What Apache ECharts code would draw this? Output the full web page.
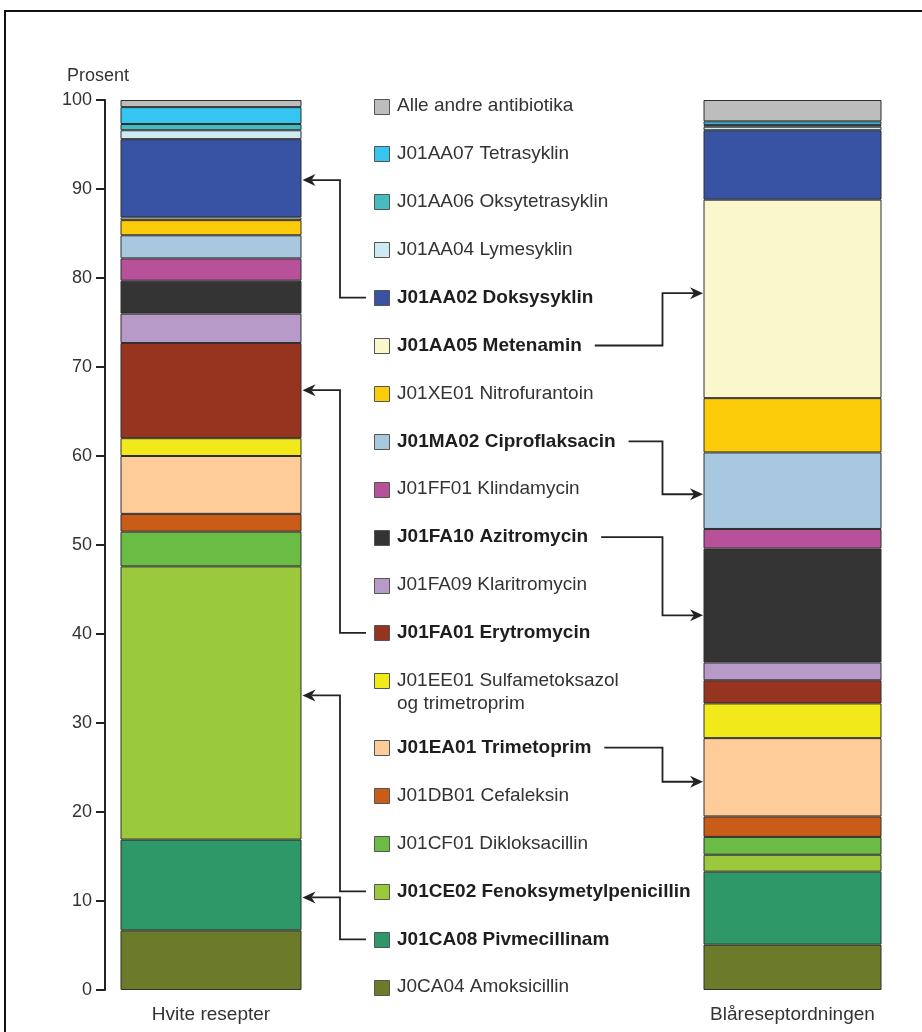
<!DOCTYPE html>
<html>
<head>
<meta charset="utf-8">
<script src="https://cdn.jsdelivr.net/npm/echarts@6/dist/echarts.min.js"></script>
<style>
  html, body { margin: 0; padding: 0; background: #fff; }
  #chart { width: 922px; height: 1032px; }
</style>
</head>
<body>
<div id="chart"></div>
<script>
// søylene
var categories = ['Hvite resepter', 'Blåreseptordningen'];

// virkestoff, ovenfra og ned (samme rekkefølge som tegnforklaringen)
var drugNames = [
  'Alle andre antibiotika',
  'J01AA07 Tetrasyklin',
  'J01AA06 Oksytetrasyklin',
  'J01AA04 Lymesyklin',
  'J01AA02 Doksysyklin',
  'J01AA05 Metenamin',
  'J01XE01 Nitrofurantoin',
  'J01MA02 Ciproflaksacin',
  'J01FF01 Klindamycin',
  'J01FA10 Azitromycin',
  'J01FA09 Klaritromycin',
  'J01FA01 Erytromycin',
  'J01EE01 Sulfametoksazol\nog trimetroprim',
  'J01EA01 Trimetoprim',
  'J01DB01 Cefaleksin',
  'J01CF01 Dikloksacillin',
  'J01CE02 Fenoksymetylpenicillin',
  'J01CA08 Pivmecillinam',
  'J0CA04 Amoksicillin'
];

// prosent av forskrivningen
var hviteValues = [0.8, 1.9, 0.7, 1.0, 8.8, 0.3, 1.7, 2.6, 2.5, 3.7, 3.3, 10.7, 2.0, 6.5, 2.0, 3.9, 30.7, 10.2, 6.7];
var blaaValues = [2.4, 0.4, 0.2, 0.4, 7.8, 22.3, 6.1, 8.6, 2.2, 12.8, 2.0, 2.6, 3.9, 8.8, 2.3, 2.0, 1.9, 8.2, 5.1];

// piler fra tegnforklaringen til søylene
var arrowDrugs = ['J01AA02 Doksysyklin', 'J01FA01 Erytromycin', 'J01CE02 Fenoksymetylpenicillin', 'J01CA08 Pivmecillinam',
  'J01AA05 Metenamin', 'J01MA02 Ciproflaksacin', 'J01FA10 Azitromycin', 'J01EA01 Trimetoprim'];
var arrowBars = [0, 0, 0, 0, 1, 1, 1, 1];
var arrowValues = [91.0, 67.4, 33.1, 10.4, 78.3, 55.7, 42.1, 23.4];

var colors = ['#bdbdbd', '#35c5f0', '#45bcbe', '#cde9f2', '#3853a3', '#fbf7cd', '#fccb0a', '#a8c8e0', '#b7529a', '#333433',
  '#b89ac8', '#973420', '#f2e91a', '#fdcc99', '#c95c18', '#6bbc45', '#9bc93c', '#2f9868', '#6b7b2a'];

var fontFamily = '"Liberation Sans", Arial, sans-serif';
var barWidths = [181, 178];

var myChart = echarts.init(document.getElementById('chart'));

// en serie per virkestoff og søyle, nederst først så stablingen blir riktig
var series = [];
for (var i = drugNames.length - 1; i >= 0; i--) {
  [hviteValues, blaaValues].forEach(function (vals, b) {
    series.push({
      name: drugNames[i],
      type: 'bar',
      stack: 'bar' + b,
      xAxisIndex: b,
      yAxisIndex: b,
      barWidth: barWidths[b],
      data: [vals[i]],
      itemStyle: { color: colors[i], borderColor: '#2e2e2e', borderWidth: 1 },
      emphasis: { disabled: true },
      animation: false
    });
  });
}

var option = {
  backgroundColor: '#fff',
  animation: false,
  title: {
    text: 'Prosent',
    left: 62,
    top: 62,
    textStyle: { fontFamily: fontFamily, fontSize: 18, fontWeight: 'normal', color: '#333' }
  },
  grid: [
    { left: 105, top: 100, bottom: 42, width: 212 },
    { left: 700, top: 100, bottom: 42, width: 185 }
  ],
  xAxis: categories.map(function (c, b) {
    return {
      type: 'category',
      gridIndex: b,
      data: [c],
      axisLine: { show: false },
      axisTick: { show: false },
      axisLabel: { fontFamily: fontFamily, fontSize: 19, color: '#333', margin: 15 }
    };
  }),
  yAxis: [0, 1].map(function (b) {
    return {
      type: 'value',
      gridIndex: b,
      show: b === 0,
      min: 0,
      max: 100,
      interval: 10,
      splitLine: { show: false },
      axisLine: { show: true, lineStyle: { color: '#222', width: 2 } },
      axisTick: { show: true, length: 9, lineStyle: { color: '#222', width: 2 } },
      axisLabel: { fontFamily: fontFamily, fontSize: 18, color: '#333', margin: 13 }
    };
  }),
  series: series
};
myChart.setOption(option);

// tegnforklaring og piler som grafikk
var measureCtx = document.createElement('canvas').getContext('2d');
function textWidth(str, bold) {
  measureCtx.font = (bold ? 'bold ' : '') + '19px ' + fontFamily;
  return measureCtx.measureText(str).width;
}

var graphics = [];
// ramme rundt figuren
graphics.push({
  type: 'rect',
  shape: { x: 5, y: 11, width: 1000, height: 1100 },
  style: { fill: 'none', stroke: '#111', lineWidth: 2 },
  silent: true
});

var legendX = 374, legendTop = 106, legendStep = 47.9;
var legendY = [];
var extra = 0;
drugNames.forEach(function (name, i) {
  var cy = legendTop + i * legendStep + extra;
  legendY.push(cy);
  if (name.indexOf('\n') >= 0) extra = 19;
  var bold = arrowDrugs.indexOf(name) >= 0;
  graphics.push({
    type: 'rect',
    shape: { x: legendX + 0.5, y: Math.round(cy - 7.5) + 0.5, width: 15, height: 15 },
    style: { fill: colors[i], stroke: '#555', lineWidth: 1 },
    silent: true
  });
  graphics.push({
    type: 'text',
    x: 397,
    y: cy - 11.5,
    style: {
      text: name,
      fill: bold ? '#1e1e1e' : '#333',
      font: (bold ? 'bold ' : '') + '19px ' + fontFamily,
      lineHeight: 23,
      align: 'left',
      verticalAlign: 'top'
    },
    silent: true
  });
});

arrowDrugs.forEach(function (name, k) {
  var i = drugNames.indexOf(name);
  var b = arrowBars[k];
  var ly = legendY[i];
  var ty = myChart.convertToPixel({ yAxisIndex: b }, arrowValues[k]);
  var cx = myChart.convertToPixel({ xAxisIndex: b }, categories[b]);
  var pts, head;
  if (b === 0) {
    var tx = cx + barWidths[0] / 2 + 1;
    pts = [[legendX - 8, ly], [340, ly], [340, ty], [tx + 9, ty]];
    head = [[tx, ty], [tx + 13, ty - 6], [tx + 9, ty], [tx + 13, ty + 6]];
  } else {
    var tx2 = cx - barWidths[1] / 2 - 0.5;
    var sx = 397 + textWidth(name, true) + 13;
    pts = [[sx, ly], [662.5, ly], [662.5, ty], [tx2 - 9, ty]];
    head = [[tx2, ty], [tx2 - 13, ty - 6], [tx2 - 9, ty], [tx2 - 13, ty + 6]];
  }
  graphics.push({
    type: 'polyline',
    shape: { points: pts },
    style: { stroke: '#222', lineWidth: 1.8, fill: null },
    silent: true
  });
  graphics.push({
    type: 'polygon',
    shape: { points: head },
    style: { fill: '#222' },
    silent: true
  });
});

myChart.setOption({ graphic: graphics });
</script>
</body>
</html>
